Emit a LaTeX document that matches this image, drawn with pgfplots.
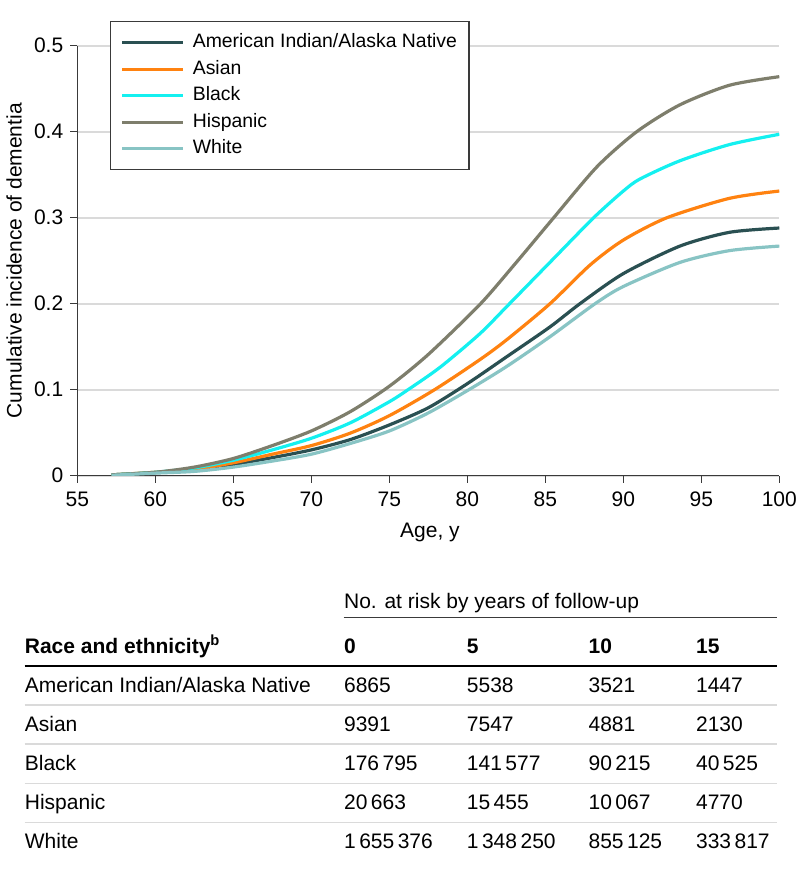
\documentclass[border=0pt]{standalone}
\usepackage{pgfplots}
\pgfplotsset{compat=1.18}
\usepackage{fontspec}
\setmainfont{Liberation Sans}
\definecolor{cAI}{HTML}{2A5052}
\definecolor{cAs}{HTML}{FF8210}
\definecolor{cBl}{HTML}{14F0F0}
\definecolor{cHi}{HTML}{7E7E6C}
\definecolor{cWh}{HTML}{88C4C4}
\definecolor{gridc}{HTML}{DADADA}
\definecolor{axc}{HTML}{3A3A3A}
\begin{document}
\begin{tikzpicture}
\useasboundingbox (0,0) rectangle (399pt,-436pt);
\begin{axis}[
  at={(38.65pt,-237.85pt)}, anchor=south west,
  scale only axis, width=351pt, height=215pt,
  xmin=55, xmax=100, ymin=0, ymax=0.5,
  xtick={55,60,...,100}, ytick={0,0.1,...,0.5},
  yticklabels={0,0.1,0.2,0.3,0.4,0.5},
  axis x line*=bottom, axis y line*=left,
  axis line style={draw=axc, line width=0.6pt},
  tick align=outside, major tick length=3.5pt,
  tick style={draw=axc, line width=0.6pt},
  ymajorgrids, grid style={draw=gridc, line width=0.8pt},
  /pgf/number format/assume math mode=true,
  ticklabel style={font=\fontsize{10.5}{12}\selectfont},
  xticklabel style={yshift=-1pt},
  xlabel={Age, y}, ylabel={Cumulative incidence of dementia},
  label style={font=\fontsize{10.5}{12}\selectfont},
  xlabel style={at={(axis description cs:0.5024,-0.133)}, anchor=center},
  ylabel style={at={(axis description cs:-0.090,0.5)}, anchor=center},
  legend cell align=left,
  legend image code/.code={\draw[#1] (0pt,0pt) -- (30.5pt,0pt);},
  legend style={at={(0.0466,1.0574)}, anchor=north west,
    draw=axc, line width=0.6pt, fill=white,
    font=\fontsize{9.7}{11}\selectfont,
    inner xsep=5pt, inner ysep=5pt, row sep=2.25pt,
    /tikz/every odd column/.append style={column sep=3pt},
    nodes={inner sep=1pt, text height=7pt, text depth=2pt}},
  every axis plot/.append style={line width=1.6pt, smooth, tension=0.45},
]
\addplot[cAI] coordinates {(57.2,0.001)(60,0.0035)(62.5,0.0065)(65,0.013)(67.5,0.021)(70,0.030)(72.5,0.042)(75,0.059)(77.5,0.079)(80,0.107)(82.5,0.138)(85.3,0.173)(87.22,0.2)(90,0.235)(93.63,0.267)(96.8,0.283)(100,0.288)};
\addlegendentry{American Indian/Alaska Native}
\addplot[cAs] coordinates {(57.2,0.001)(60,0.004)(62.5,0.0075)(65,0.015)(67.5,0.025)(70,0.035)(72.5,0.0495)(75,0.0698)(77.9,0.1)(80.81,0.135)(82.52,0.158)(85.3,0.2)(87.87,0.245)(90,0.274)(92.8,0.3)(96.8,0.3225)(100,0.331)};
\addlegendentry{Asian}
\addplot[cBl] coordinates {(57.2,0.001)(60,0.004)(62.5,0.009)(65,0.018)(67.5,0.030)(70,0.0435)(72.5,0.0615)(75,0.086)(76.2,0.1)(78.25,0.126)(80.8,0.165)(82.6,0.198)(85.4,0.25)(88.1,0.3)(90,0.331)(91.07,0.345)(93.6,0.366)(96.8,0.385)(100,0.397)};
\addlegendentry{Black}
\addplot[cHi] coordinates {(57.2,0.001)(60,0.004)(62.5,0.010)(65,0.020)(67.5,0.035)(70,0.052)(72.5,0.0745)(75,0.104)(77.5,0.141)(80.8,0.199)(83,0.245)(85.4,0.297)(88.3,0.359)(90.86,0.4)(93.6,0.431)(96.8,0.454)(100,0.464)};
\addlegendentry{Hispanic}
\addplot[cWh] coordinates {(57.2,0.0005)(60,0.003)(62.5,0.005)(65,0.010)(67.5,0.017)(70,0.025)(72.5,0.0375)(75,0.052)(77.5,0.073)(80.1,0.1)(82.52,0.127)(85.3,0.1616)(88.19,0.2)(90,0.22)(93.63,0.248)(96.8,0.2617)(100,0.267)};
\addlegendentry{White}
\end{axis}
\begin{scope}[x=0.5pt,y=-0.5pt, every node/.style={font=\fontsize{10.5}{12}\selectfont, inner sep=0pt}]
\node[anchor=base west] at (343.7,608.7) {No. at risk by years of follow-up};
\draw[axc, line width=0.6pt] (343.7,617.3) -- (776.5,617.3);
\node[anchor=base west] at (24.5,653) {\bfseries Race and ethnicity\textsuperscript{b}};
\node[anchor=base west] at (343.7,653) {\bfseries 0};
\node[anchor=base west] at (466.5,653) {\bfseries 5};
\node[anchor=base west] at (588.2,653) {\bfseries 10};
\node[anchor=base west] at (695.7,653) {\bfseries 15};
\draw[black, line width=1.1pt] (24.5,666) -- (776.5,666);
\foreach \yy in {705,744,783.3,822.7} \draw[gridc, line width=0.7pt] (24.5,\yy) -- (776.5,\yy);
\foreach \yy/\a/\b/\c/\d/\e in {
  692/{American Indian/Alaska Native}/6865/5538/3521/1447,
  731/Asian/9391/7547/4881/2130,
  770.3/Black/176\,795/141\,577/90\,215/40\,525,
  809.7/Hispanic/20\,663/15\,455/10\,067/4770,
  848.7/White/1\,655\,376/1\,348\,250/855\,125/333\,817}{
  \node[anchor=base west] at (24.5,\yy) {\a};
  \node[anchor=base west] at (343.7,\yy) {\b};
  \node[anchor=base west] at (466.5,\yy) {\c};
  \node[anchor=base west] at (588.2,\yy) {\d};
  \node[anchor=base west] at (695.7,\yy) {\e};
}
\end{scope}
\end{tikzpicture}
\end{document}
